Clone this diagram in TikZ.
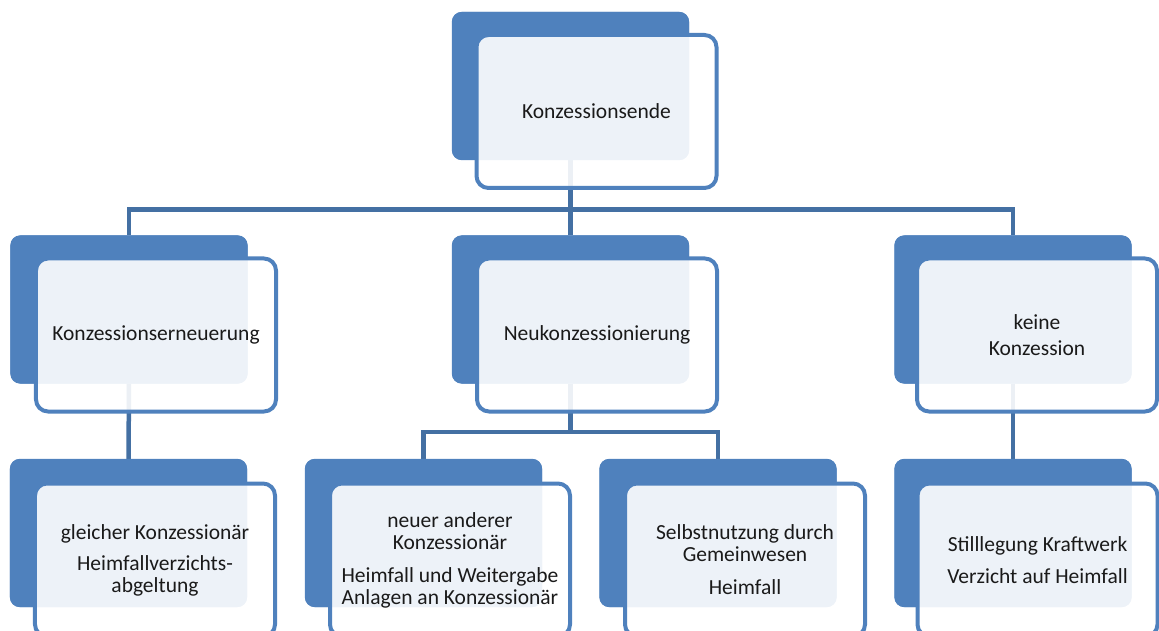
\documentclass[tikz,border=0pt]{standalone}
\usepackage{fontspec}
\setmainfont{Carlito}
\definecolor{accent}{HTML}{4F81BD}
\definecolor{connc}{HTML}{4470A3}
\definecolor{txt}{HTML}{1A1A1A}
\tikzset{
  backbox/.style={rectangle, rounded corners=10bp, fill=accent, draw=none,
    minimum width=237bp, minimum height=148bp, inner sep=0pt},
  frontbox/.style={rectangle, rounded corners=12bp, fill=white, fill opacity=0.9,
    text opacity=1, draw=accent, line width=4bp, minimum width=240bp,
    minimum height=153bp, inner sep=2pt, align=center, text=txt,
    font=\fontsize{21.5bp}{22bp}\selectfont},
  conn/.style={draw=connc, line width=4.5bp}
}
\begin{document}
\begin{tikzpicture}[x=1bp,y=-1bp]
\useasboundingbox (0,0) rectangle (1159,631);
\clip (0,0) rectangle (1159,631);
% back boxes
\node[backbox] (top) at (570.5,86) {};
\node[backbox] (la) at (129,309.5) {};
\node[backbox] (lb) at (570.5,309.5) {};
\node[backbox] (lc) at (1013,309.5) {};
\node[backbox] (ma) at (128.5,533) {};
\node[backbox] (mb) at (423.5,533) {};
\node[backbox] (mc) at (718,533) {};
\node[backbox] (md) at (1013,533) {};
% connectors
\draw[conn] (top.south) |- ([yshift=26bp]la.north) -- (la.north);
\draw[conn] (top.south) |- ([yshift=26bp]lc.north) -- (lc.north);
\draw[conn] (top.south) -- (lb.north);
\draw[conn] (la.south) -- (ma.north);
\draw[conn] (lc.south) -- (md.north);
\draw[conn] (lb.south) |- ([yshift=27bp]mb.north) -- (mb.north);
\draw[conn] (lb.south) |- ([yshift=27bp]mc.north) -- (mc.north);
% redraw back boxes on top of connectors
\foreach \n in {top,la,lb,lc,ma,mb,mc,md}{\fill[accent, rounded corners=10bp] (\n.north west) rectangle (\n.south east);}
% front boxes
\node[frontbox] (ftop) at (596.5,111.5) {Konzessionsende};
\node[frontbox] (fla) at (156,335) {Konzessionserneuerung};
\node[frontbox] (flb) at (597,335) {Neukonzessionierung};
\node[frontbox] (flc) at (1037,335) {keine\\[4bp]Konzession};
\node[frontbox] (fma) at (155,560) {gleicher Konzessionär\\[9bp]Heimfallverzichts-\\abgeltung};
\node[frontbox] (fmb) at (450,560) {neuer anderer\\Konzessionär\\[11bp]Heimfall und Weitergabe\\Anlagen an Konzessionär};
\node[frontbox] (fmc) at (745,560) {Selbstnutzung durch\\Gemeinwesen\\[11bp]Heimfall};
\node[frontbox] (fmd) at (1037.5,560) {Stilllegung Kraftwerk\\[10bp]Verzicht auf Heimfall};
\end{tikzpicture}
\end{document}
